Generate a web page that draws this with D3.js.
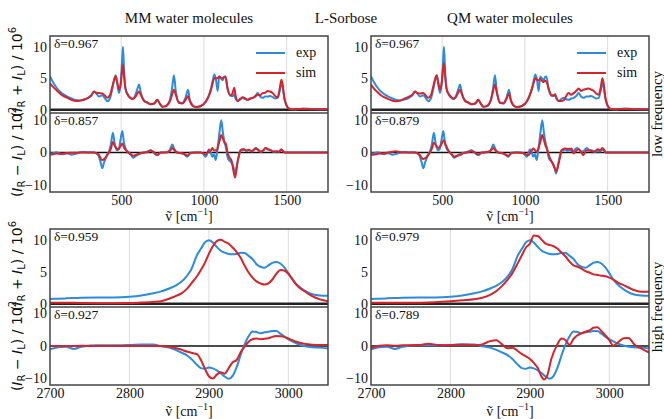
<!DOCTYPE html>
<html><head><meta charset="utf-8">
<script src="https://cdn.jsdelivr.net/npm/d3@7"></script>
<style>body{margin:0;background:#fff}</style></head>
<body><svg id="c" width="664" height="419"></svg>
<script>
// ---------- data ----------
const lfTicks = [500, 1000, 1500];
const hfTicks = [2700, 2800, 2900, 3000];
const sumTicks = [0, 5, 10];
const diffTicks = [-10, 0, 10];
const panelTitles = ["MM water molecules", "QM water molecules"];
const moleculeName = "L-Sorbose";
const rowLabels = ["low frequency", "high frequency"];
const seriesNames = ["exp", "sim"];
const deltaSumLF = [0.967, 0.967];
const deltaDiffLF = [0.857, 0.879];
const deltaSumHF = [0.959, 0.979];
const deltaDiffHF = [0.927, 0.789];

// low frequency (I_R + I_L)
const lfSumExp = [[70,5.3],[90,4.3],[110,3.5],[130,2.9],[150,2.5],[175,2.1],[200,1.8],[225,1.55],[250,1.5],[275,1.65],[300,1.9],[320,2.3],[336,2.9],[350,2.6],[366,2.1],[386,2.3],[400,1.9],[416,1.35],[432,1.8],[448,3.5],[460,5.0],[467,5.5],[475,4.4],[487,2.65],[498,4.5],[505,7.5],[511,10.0],[518,6.0],[527,3.3],[540,2.4],[555,1.9],[570,1.7],[585,2.3],[598,3.3],[608,4.0],[620,2.6],[638,1.5],[655,1.2],[678,0.9],[700,1.0],[718,1.6],[735,0.9],[750,0.5],[765,0.55],[780,0.8],[795,1.6],[808,3.5],[819,5.5],[830,3.0],[849,1.2],[870,1.1],[890,2.0],[904,3.2],[915,1.6],[930,0.8],[952,0.45],[982,0.6],[1013,1.35],[1030,2.3],[1043,3.4],[1053,4.6],[1063,5.6],[1073,4.8],[1083,3.0],[1093,5.3],[1103,5.0],[1113,4.7],[1122,5.2],[1130,5.3],[1143,3.3],[1163,2.2],[1175,2.2],[1183,2.5],[1192,1.7],[1204,1.4],[1220,1.7],[1234,1.9],[1250,1.7],[1264,1.6],[1280,1.8],[1295,1.9],[1310,2.2],[1325,2.65],[1340,2.1],[1355,1.9],[1370,2.1],[1385,2.1],[1400,2.2],[1416,2.0],[1430,1.8],[1446,1.9],[1458,3.0],[1468,4.2],[1476,3.6],[1486,1.9],[1496,0.9],[1506,0.4],[1520,0.15],[1550,0.1],[1600,0.2],[1650,0.15],[1700,0.1],[1750,0.1]];
const lfSumMM = [[70,4.2],[90,3.6],[110,3.1],[130,2.6],[150,2.2],[175,1.9],[200,1.6],[225,1.4],[250,1.45],[275,1.6],[300,1.9],[320,2.3],[336,2.9],[350,2.7],[366,2.65],[386,2.6],[400,2.3],[416,1.9],[432,2.3],[448,3.8],[460,5.0],[467,5.3],[475,4.5],[487,3.2],[498,4.2],[505,6.0],[511,7.1],[518,5.2],[527,3.2],[540,2.4],[555,1.9],[570,1.75],[585,2.0],[598,2.6],[608,2.9],[620,2.3],[638,1.4],[655,1.2],[678,0.9],[700,1.0],[718,1.6],[735,0.9],[750,0.5],[765,0.55],[780,0.8],[795,1.4],[808,2.4],[819,3.2],[830,2.4],[849,1.1],[870,1.0],[890,1.6],[904,2.2],[915,1.4],[930,0.7],[952,0.45],[982,0.6],[1013,1.35],[1030,2.2],[1043,3.2],[1053,4.2],[1063,5.0],[1073,5.0],[1083,5.0],[1093,5.3],[1103,5.0],[1113,5.0],[1122,5.2],[1130,5.3],[1143,3.4],[1163,2.3],[1175,2.8],[1183,3.5],[1192,2.2],[1204,1.4],[1220,1.7],[1234,2.0],[1250,1.8],[1264,1.6],[1280,1.8],[1295,1.9],[1310,2.1],[1325,2.4],[1340,2.3],[1355,2.65],[1370,2.7],[1385,3.0],[1400,2.9],[1416,2.65],[1430,2.2],[1446,2.0],[1458,3.3],[1468,4.75],[1476,4.0],[1486,1.9],[1496,0.9],[1506,0.4],[1520,0.15],[1550,0.1],[1600,0.15],[1650,0.1],[1700,0.1],[1750,0.1]];
const lfSumQM = [[70,4.0],[90,3.3],[110,2.8],[130,2.3],[150,2.0],[175,1.7],[200,1.45],[225,1.35],[250,1.5],[275,1.8],[300,2.1],[320,2.4],[336,2.9],[350,2.7],[366,2.6],[386,2.65],[400,2.3],[416,1.9],[432,2.3],[448,3.9],[460,5.1],[467,5.5],[475,4.5],[487,3.2],[498,4.4],[505,6.3],[511,7.4],[518,5.4],[527,3.3],[540,2.5],[555,2.0],[570,1.8],[585,2.1],[598,2.8],[608,3.2],[620,2.4],[638,1.4],[655,1.2],[678,0.9],[700,1.0],[718,1.6],[735,0.9],[750,0.5],[765,0.55],[780,0.8],[795,1.6],[808,3.0],[819,4.0],[830,2.8],[849,1.1],[870,1.0],[890,1.8],[904,2.6],[915,1.5],[930,0.7],[952,0.45],[982,0.6],[1013,1.4],[1030,2.4],[1043,3.4],[1053,4.3],[1063,5.0],[1073,4.8],[1083,4.7],[1093,4.9],[1103,4.6],[1113,4.4],[1122,4.6],[1130,4.5],[1143,3.4],[1163,2.3],[1175,2.3],[1183,2.4],[1192,1.8],[1204,1.4],[1220,1.4],[1234,1.5],[1250,2.2],[1264,2.65],[1280,2.4],[1295,2.65],[1310,3.0],[1325,3.4],[1340,3.0],[1355,3.2],[1370,3.3],[1385,3.4],[1400,3.2],[1416,3.0],[1430,2.6],[1446,2.4],[1458,3.5],[1468,5.0],[1476,4.2],[1486,2.0],[1496,0.9],[1506,0.4],[1520,0.15],[1550,0.1],[1600,0.15],[1650,0.1],[1700,0.1],[1750,0.1]];

// low frequency (I_R - I_L)
const lfDiffExp = [[70,-0.3],[90,-0.2],[110,0.1],[130,-0.3],[150,-0.5],[175,-0.2],[200,-0.7],[225,-0.4],[250,0.0],[275,0.2],[300,0.0],[320,0.1],[336,0.0],[350,-0.3],[366,-1.3],[376,-3.0],[386,-4.8],[396,-3.2],[406,-1.8],[416,-0.6],[426,0.2],[438,2.5],[450,6.0],[460,3.0],[473,0.7],[485,1.0],[495,3.5],[507,6.5],[517,3.0],[527,1.2],[547,0.0],[560,-0.8],[573,-1.6],[585,-1.2],[597,-0.8],[618,-0.3],[640,0.0],[660,0.3],[678,0.7],[695,0.0],[718,-0.8],[740,0.0],[760,0.0],[780,0.2],[795,0.8],[809,2.4],[822,1.0],[839,0.0],[860,-0.2],[880,-0.6],[900,-1.3],[920,0.0],[950,0.0],[980,0.0],[995,-0.4],[1011,-1.3],[1021,-0.2],[1031,1.0],[1041,0.0],[1051,-1.3],[1061,-0.5],[1071,-2.3],[1078,-0.5],[1085,2.2],[1095,6.5],[1105,9.8],[1115,6.0],[1125,3.0],[1132,1.7],[1145,-1.8],[1155,-2.5],[1162,-2.8],[1170,-3.5],[1178,-4.3],[1188,-6.4],[1195,-5.0],[1202,-3.3],[1212,-1.0],[1222,0.7],[1232,0.6],[1242,1.0],[1255,0.5],[1272,0.7],[1290,0.3],[1300,0.8],[1313,1.4],[1328,0.9],[1343,0.2],[1358,0.6],[1373,1.4],[1388,0.8],[1403,0.7],[1420,0.2],[1443,0.4],[1455,0.3],[1467,1.0],[1478,0.5],[1490,0.0],[1550,0.0],[1750,0.0]];
const lfDiffMM = [[70,-0.6],[90,-0.5],[110,-0.3],[130,-0.4],[150,-0.3],[175,-0.2],[200,-0.1],[225,-0.1],[250,0.0],[300,0.0],[336,0.0],[350,-0.2],[366,-0.7],[376,-1.8],[386,-2.3],[396,-2.0],[406,-1.6],[416,-0.8],[426,0.0],[438,1.2],[450,3.2],[460,2.2],[473,1.2],[485,1.0],[495,1.8],[507,2.7],[517,1.5],[527,0.8],[547,-0.2],[560,-0.6],[573,-1.0],[585,-0.8],[597,-0.6],[618,-0.2],[640,0.0],[660,0.1],[678,0.6],[695,0.2],[718,-0.7],[740,0.0],[760,0.0],[780,0.1],[795,0.5],[809,1.4],[822,0.7],[839,0.0],[860,-0.2],[880,-0.4],[900,-0.9],[920,-0.2],[950,0.0],[980,0.0],[995,-0.2],[1011,-0.6],[1021,-0.1],[1031,0.7],[1041,0.5],[1051,1.4],[1061,0.6],[1071,0.7],[1078,0.5],[1085,1.8],[1095,3.6],[1105,5.3],[1115,4.2],[1125,3.0],[1132,2.7],[1145,-0.5],[1155,-1.6],[1162,-2.0],[1170,-3.0],[1178,-5.4],[1188,-7.6],[1195,-6.0],[1202,-3.3],[1212,-0.8],[1222,0.7],[1232,1.0],[1242,1.0],[1255,0.6],[1272,0.8],[1290,0.4],[1300,0.7],[1313,1.2],[1328,0.7],[1343,0.2],[1358,0.6],[1373,1.4],[1388,1.0],[1403,0.7],[1420,0.3],[1443,0.3],[1455,0.2],[1467,0.8],[1478,0.4],[1490,0.0],[1550,0.0],[1750,0.0]];
const lfDiffQM = [[70,-0.8],[90,-0.6],[110,-0.4],[130,-0.3],[150,-0.2],[175,0.0],[200,0.2],[220,0.4],[250,0.1],[300,0.0],[336,0.0],[350,-0.2],[366,-0.8],[376,-1.6],[386,-2.0],[396,-1.8],[406,-1.4],[416,-0.7],[426,0.0],[438,1.2],[450,3.0],[460,2.4],[477,1.4],[490,2.0],[500,3.0],[510,3.7],[520,2.5],[537,0.7],[555,-0.4],[573,-1.3],[590,-1.0],[607,-0.8],[630,-0.2],[655,0.1],[678,0.4],[695,0.1],[718,-0.6],[740,0.0],[780,0.2],[795,0.6],[809,1.4],[822,0.6],[839,0.0],[870,-0.3],[900,-1.0],[920,-0.2],[950,0.0],[990,-0.2],[1021,-0.8],[1036,0.2],[1051,1.2],[1061,0.7],[1071,0.2],[1085,1.8],[1095,3.6],[1105,5.3],[1115,3.8],[1125,2.0],[1132,1.2],[1142,-0.3],[1152,-1.8],[1162,-2.8],[1172,-3.8],[1180,-4.8],[1188,-5.7],[1195,-5.2],[1202,-3.8],[1212,-1.5],[1222,0.7],[1242,1.2],[1262,1.1],[1282,1.2],[1293,-0.3],[1308,0.4],[1323,1.0],[1338,0.3],[1353,-0.8],[1373,0.7],[1388,0.6],[1403,0.4],[1420,0.3],[1443,1.0],[1455,0.5],[1467,1.4],[1478,0.9],[1490,0.0],[1550,0.0],[1750,0.0]];

// high frequency (I_R + I_L)
const hfSumExp = [[2700,0.75],[2710,0.8],[2720,0.85],[2730,0.9],[2740,0.95],[2760,1.0],[2780,1.0],[2800,1.1],[2815,1.3],[2830,1.65],[2840,1.95],[2850,2.4],[2858,2.85],[2865,3.4],[2872,4.3],[2878,5.4],[2885,7.6],[2890,8.6],[2895,9.6],[2900,9.95],[2905,9.6],[2910,8.9],[2915,8.3],[2920,8.0],[2925,7.8],[2930,7.75],[2935,7.8],[2940,8.0],[2945,7.95],[2950,7.5],[2955,7.0],[2960,6.2],[2965,5.8],[2970,5.65],[2975,6.0],[2980,6.4],[2985,6.55],[2990,6.3],[2995,5.7],[3000,4.8],[3005,3.8],[3010,3.1],[3020,2.1],[3030,1.5],[3040,1.3],[3050,1.25]];
const hfSumMM = [[2700,0.15],[2710,0.15],[2720,0.15],[2730,0.15],[2740,0.12],[2760,0.1],[2780,0.1],[2800,0.12],[2815,0.2],[2830,0.3],[2840,0.4],[2850,0.8],[2858,1.2],[2865,1.6],[2872,2.3],[2878,3.2],[2885,4.3],[2890,5.3],[2895,6.4],[2900,7.8],[2905,9.0],[2910,9.8],[2915,10.0],[2920,9.7],[2925,9.4],[2930,8.8],[2935,8.1],[2940,7.2],[2945,6.0],[2950,4.9],[2955,4.1],[2960,3.5],[2965,3.2],[2970,3.0],[2975,3.2],[2980,3.8],[2985,4.7],[2990,5.3],[2995,5.2],[3000,4.7],[3005,3.9],[3010,3.0],[3020,2.0],[3030,1.2],[3040,0.7],[3050,0.4]];
const hfSumQM = [[2700,0.15],[2710,0.15],[2720,0.15],[2730,0.15],[2740,0.15],[2760,0.18],[2780,0.25],[2800,0.4],[2815,0.55],[2830,0.7],[2840,0.95],[2850,1.4],[2858,2.0],[2865,2.8],[2872,3.8],[2878,4.8],[2885,6.4],[2890,7.6],[2895,8.8],[2900,9.4],[2905,10.7],[2910,10.6],[2915,10.0],[2920,9.4],[2925,9.2],[2930,9.0],[2935,8.6],[2940,8.0],[2945,7.4],[2950,6.6],[2955,6.0],[2960,5.8],[2965,5.5],[2970,5.1],[2975,4.9],[2980,4.6],[2985,4.5],[2990,4.4],[2995,4.3],[3000,4.1],[3005,3.8],[3010,3.4],[3020,2.8],[3030,2.2],[3040,1.9],[3050,1.9]];

// high frequency (I_R - I_L)
const hfDiffExp = [[2700,-1.0],[2710,-0.4],[2720,-0.2],[2730,-0.9],[2740,-0.2],[2760,0.2],[2780,0.2],[2800,0.3],[2815,0.5],[2830,0.5],[2840,-0.1],[2850,-0.5],[2858,-1.2],[2865,-2.0],[2872,-2.8],[2878,-4.0],[2885,-5.8],[2890,-6.8],[2895,-7.0],[2900,-6.6],[2905,-6.9],[2910,-7.5],[2915,-8.4],[2920,-9.4],[2925,-10.1],[2930,-9.2],[2935,-6.5],[2940,-2.8],[2945,0.5],[2950,3.0],[2955,4.5],[2960,4.3],[2965,3.9],[2970,4.2],[2975,4.4],[2980,4.6],[2985,4.6],[2990,3.8],[2995,2.9],[3000,2.1],[3005,1.4],[3010,0.8],[3020,0.0],[3030,-0.4],[3040,-0.5],[3050,-0.8]];
const hfDiffMM = [[2700,0.0],[2720,0.0],[2740,0.05],[2760,0.0],[2780,0.0],[2800,0.05],[2820,0.0],[2840,0.0],[2850,-0.2],[2858,-0.6],[2865,-1.1],[2872,-1.7],[2878,-2.1],[2885,-2.5],[2890,-4.3],[2895,-7.0],[2900,-9.3],[2905,-10.0],[2910,-8.8],[2915,-8.1],[2920,-8.5],[2925,-6.8],[2930,-5.0],[2935,-4.3],[2940,-1.9],[2945,-0.2],[2950,1.3],[2955,2.1],[2960,2.3],[2965,2.1],[2970,2.2],[2975,2.4],[2980,2.8],[2985,3.1],[2990,3.0],[2995,2.8],[3000,2.3],[3005,1.8],[3010,1.3],[3020,0.7],[3030,0.4],[3040,0.3],[3050,0.3]];
const hfDiffQM = [[2700,-0.6],[2710,0.1],[2720,0.2],[2730,0.1],[2740,0.2],[2760,0.3],[2772,0.7],[2785,0.3],[2800,0.2],[2815,0.5],[2830,0.2],[2840,0.5],[2850,1.5],[2858,1.8],[2865,0.5],[2872,-0.7],[2878,-0.5],[2885,-1.6],[2890,-2.5],[2895,-3.2],[2900,-4.0],[2905,-5.2],[2910,-6.8],[2915,-9.5],[2918,-10.3],[2922,-9.0],[2927,-4.0],[2934,0.2],[2940,2.3],[2945,1.8],[2950,0.3],[2955,2.2],[2960,3.3],[2965,3.9],[2970,4.4],[2975,4.8],[2980,5.6],[2985,5.8],[2990,4.6],[2995,3.3],[3000,1.8],[3005,0.1],[3010,0.9],[3018,2.4],[3024,2.5],[3032,0.4],[3040,-0.7],[3050,-2.0]];

// ---------- drawing ----------
const svg = d3.select("#c");
const SERIF = "'Liberation Serif','Times New Roman',serif";
const SANS = "'DejaVu Sans',sans-serif";
const BLUE = "#2b8be0", RED = "#d8232a";
let clipN = 0;

function clip(x0, y0, w, h) {
  const id = "clip" + (clipN++);
  svg.append("clipPath").attr("id", id).append("rect").attr("x", x0).attr("y", y0).attr("width", w).attr("height", h);
  return "url(#" + id + ")";
}

function styleAxis(g) {
  g.select(".domain").remove();
  g.attr("font-family", null).attr("font-size", null);
  g.selectAll("text").style("font-family", SERIF).style("font-size", "14px").attr("fill", "#111");
}

function drawPanel(o) {
  const left = o.left, w = 278, top = o.top, hT = o.hTop, hB = o.hBot;
  const mid = top + hT, bot = top + hT + hB;
  const x = d3.scaleLinear().domain(o.xDomain).range([left, left + w]);
  const yS = d3.scaleLinear().domain([-0.5, 11.7]).range([mid, top]);
  const yD = d3.scaleLinear().domain([-12, 12]).range([bot, mid]);

  // grid
  [[top, mid], [mid, bot]].forEach(([a, b]) => {
    svg.append("g").selectAll("line").data(o.grid).join("line")
      .attr("x1", d => x(d)).attr("x2", d => x(d)).attr("y1", a).attr("y2", b)
      .attr("stroke", "#dcdcdc").attr("stroke-width", 1);
  });
  // zero lines
  svg.append("line").attr("x1", left).attr("x2", left + w).attr("y1", yS(0)).attr("y2", yS(0))
    .attr("stroke", "#222").attr("stroke-width", 2.5);
  svg.append("line").attr("x1", left).attr("x2", left + w).attr("y1", yD(0)).attr("y2", yD(0))
    .attr("stroke", "#111").attr("stroke-width", 1.6);

  const cT = clip(left, top, w, hT), cB = clip(left, mid, w, hB);
  const lineS = d3.line().x(d => x(d[0])).y(d => yS(d[1])).curve(d3.curveMonotoneX);
  const lineD = d3.line().x(d => x(d[0])).y(d => yD(d[1])).curve(d3.curveMonotoneX);
  [[o.sumExp, BLUE], [o.sumSim, RED]].forEach(([d, c]) =>
    svg.append("path").datum(d).attr("d", lineS).attr("fill", "none").attr("stroke", c)
      .attr("stroke-width", 2).attr("stroke-linejoin", "round").attr("clip-path", cT));
  [[o.diffExp, BLUE], [o.diffSim, RED]].forEach(([d, c]) =>
    svg.append("path").datum(d).attr("d", lineD).attr("fill", "none").attr("stroke", c)
      .attr("stroke-width", 2).attr("stroke-linejoin", "round").attr("clip-path", cB));

  // frames
  svg.append("rect").attr("x", left).attr("y", top).attr("width", w).attr("height", hT + hB)
    .attr("fill", "none").attr("stroke", "#444").attr("stroke-width", 1.5);
  svg.append("line").attr("x1", left).attr("x2", left + w).attr("y1", mid).attr("y2", mid)
    .attr("stroke", "#444").attr("stroke-width", 1.5);

  // axes
  svg.append("g").attr("transform", `translate(${left},0)`)
    .call(d3.axisLeft(yS).tickValues(sumTicks).tickSize(0).tickPadding(3).tickFormat(d3.format("d"))).call(styleAxis);
  svg.append("g").attr("transform", `translate(${left},0)`)
    .call(d3.axisLeft(yD).tickValues(diffTicks).tickSize(0).tickPadding(3).tickFormat(d3.format("d"))).call(styleAxis);
  svg.append("g").attr("transform", `translate(0,${bot})`)
    .call(d3.axisBottom(x).tickValues(o.xTicks).tickSize(0).tickPadding(3).tickFormat(d3.format("d"))).call(styleAxis);

  // delta labels
  svg.append("text").attr("x", left + 4).attr("y", top + 12).text("δ=" + o.dSum.toFixed(3))
    .style("font-family", SERIF).style("font-size", "13.5px").attr("fill", "#111");
  svg.append("text").attr("x", left + 4).attr("y", mid + 12).text("δ=" + o.dDiff.toFixed(3))
    .style("font-family", SERIF).style("font-size", "13.5px").attr("fill", "#111");

  // x label
  const xl = svg.append("text").attr("x", left + w / 2).attr("y", o.xLabelY).attr("text-anchor", "middle")
    .style("font-family", SERIF).style("font-size", "14px").attr("fill", "#111");
  xl.append("tspan").text("\u1E7D [cm");
  xl.append("tspan").attr("dy", -6).style("font-size", "10px").text("−1");
  xl.append("tspan").attr("dy", 6).text("]");

  // legend
  if (o.legend) {
    [[BLUE, seriesNames[0], 53], [RED, seriesNames[1], 73]].forEach(([c, t, yy]) => {
      svg.append("line").attr("x1", left + 206).attr("x2", left + 235).attr("y1", yy).attr("y2", yy)
        .attr("stroke", c).attr("stroke-width", 2);
      svg.append("text").attr("x", left + 246).attr("y", yy + 4).text(t)
        .style("font-family", SERIF).style("font-size", "14px").attr("fill", "#111");
    });
  }
}

function yLabel(cx, cy, sign, pow) {
  const t = svg.append("text").attr("transform", `translate(${cx},${cy}) rotate(-90)`)
    .attr("text-anchor", "middle").style("font-family", SANS).style("font-size", "14px").attr("fill", "#111");
  t.append("tspan").text("(");
  t.append("tspan").attr("font-style", "italic").text("I");
  t.append("tspan").style("font-size", "10px").attr("dy", 3).text("R");
  t.append("tspan").attr("dy", -3).text(" " + sign + " ");
  t.append("tspan").attr("font-style", "italic").text("I");
  t.append("tspan").style("font-size", "10px").attr("dy", 3).text("L");
  t.append("tspan").attr("dy", -3).text(") / 10");
  t.append("tspan").style("font-size", "10px").attr("dy", -6).text(pow);
}

const lefts = [50, 371];
const lfSims = [[lfSumMM, lfDiffMM], [lfSumQM, lfDiffQM]];
const hfSims = [[hfSumMM, hfDiffMM], [hfSumQM, hfDiffQM]];
lefts.forEach((L, i) => {
  drawPanel({left: L, top: 36, hTop: 77, hBot: 79, xDomain: [70, 1750], xTicks: lfTicks, grid: lfTicks,
    sumExp: lfSumExp, sumSim: lfSims[i][0], diffExp: lfDiffExp, diffSim: lfSims[i][1],
    dSum: deltaSumLF[i], dDiff: deltaDiffLF[i], legend: true, xLabelY: 221});
  drawPanel({left: L, top: 229, hTop: 78, hBot: 78, xDomain: [2700, 3050], xTicks: hfTicks, grid: [2800, 2900, 3000],
    sumExp: hfSumExp, sumSim: hfSims[i][0], diffExp: hfDiffExp, diffSim: hfSims[i][1],
    dSum: deltaSumHF[i], dDiff: deltaDiffHF[i], legend: false, xLabelY: 416});
  svg.append("text").attr("x", L + 139).attr("y", 23).attr("text-anchor", "middle").text(panelTitles[i])
    .style("font-family", SERIF).style("font-size", "15px").attr("fill", "#111");
});
svg.append("text").attr("x", 346).attr("y", 23).attr("text-anchor", "middle").text(moleculeName)
  .style("font-family", SERIF).style("font-size", "15px").attr("fill", "#111");

// y labels
yLabel(22, 72, "+", "6");
yLabel(22, 152, "−", "2");
yLabel(22, 266, "+", "6");
yLabel(22, 346, "−", "2");

// row labels
[[114, rowLabels[0]], [307, rowLabels[1]]].forEach(([cy, t]) => {
  svg.append("text").attr("transform", `translate(662,${cy}) rotate(-90)`).attr("text-anchor", "middle")
    .text(t).style("font-family", SERIF).style("font-size", "15px").attr("fill", "#111");
});
</script></body></html>
